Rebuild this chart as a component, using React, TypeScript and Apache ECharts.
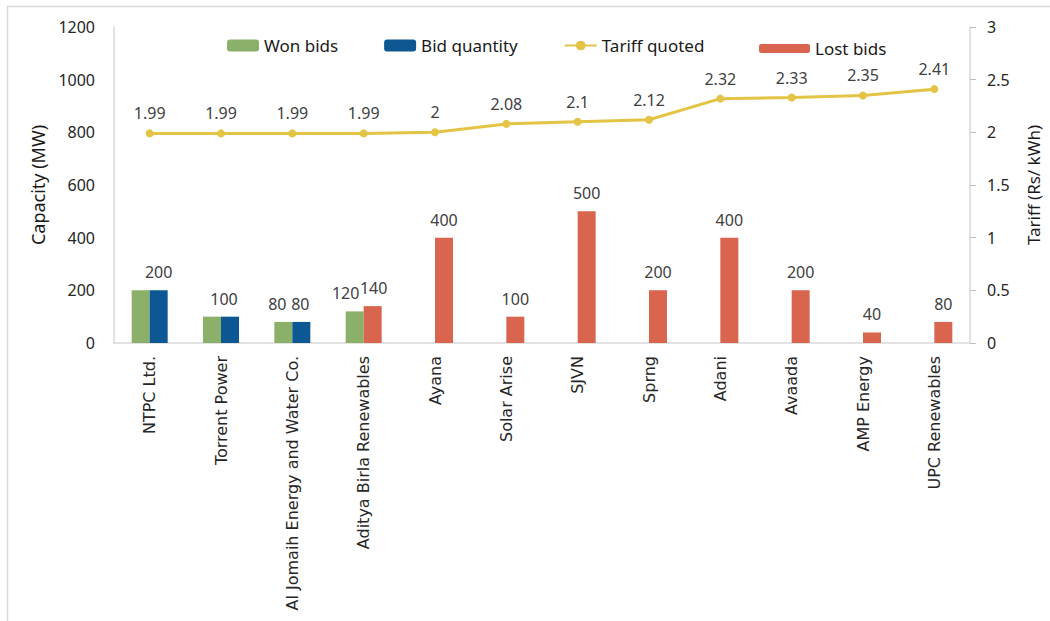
import React, { useEffect, useRef } from "react";
import * as echarts from "echarts";

const categories = [
  "NTPC Ltd.",
  "Torrent Power",
  "Al Jomaih Energy and Water Co.",
  "Aditya Birla Renewables",
  "Ayana",
  "Solar Arise",
  "SJVN",
  "Sprng",
  "Adani",
  "Avaada",
  "AMP Energy",
  "UPC Renewables",
];
const wonBids: (number | string)[] = [200, 100, 80, 120, "-", "-", "-", "-", "-", "-", "-", "-"];
const bidQuantity: (number | string)[] = [200, 100, 80, "-", "-", "-", "-", "-", "-", "-", "-", "-"];
const lostBids: (number | string)[] = ["-", "-", "-", 140, 400, 100, 500, 200, 400, 200, 40, 80];
const tariffQuoted = [1.99, 1.99, 1.99, 1.99, 2, 2.08, 2.1, 2.12, 2.32, 2.33, 2.35, 2.41];
const capacityTicks = { min: 0, max: 1200, interval: 200 };
const tariffTicks = { min: 0, max: 3, interval: 0.5 };

const GREEN = "#8AB06A";
const BLUE = "#0D5892";
const RED = "#D9654F";
const YELLOW = "#E3C444";
const FONT = "Noto Sans";

export default function App() {
  const ref = useRef<HTMLDivElement>(null);
  useEffect(() => {
    if (!ref.current) return;
    const chart = echarts.init(ref.current, null, { renderer: "svg" });
    const labelStyle = {
      show: true,
      position: "top" as const,
      distance: 10,
      color: "#404040",
      fontSize: 16,
      fontFamily: FONT,
    };
    const wonOffsets: Record<number, number[]> = { 2: [-6, 0], 3: [-9, 0] };
    const bidOffsets: Record<number, number[]> = { 1: [-6, 0], 2: [-1, 0] };
    const lostOffsets: Record<number, number[]> = { 3: [1, 0] };
    chart.setOption({
      animation: false,
      backgroundColor: "#ffffff",
      graphic: [
        {
          type: "rect",
          shape: { x: 7.5, y: 6.5, width: 1200, height: 800 },
          style: { fill: "none", stroke: "#d9d9d9", lineWidth: 1.5 },
          silent: true,
        },
      ],
      legend: [
        {
          data: ["Won bids", "Bid quantity", "Tariff quoted"],
          left: 222,
          top: 32,
          itemWidth: 32,
          itemHeight: 12,
          itemGap: 46,
          textStyle: { fontSize: 17, fontFamily: FONT, color: "#1a1a1a" },
        },
        {
          data: ["Lost bids"],
          left: 754,
          top: 35,
          itemWidth: 51,
          itemHeight: 9,
          textStyle: { fontSize: 17, fontFamily: FONT, color: "#1a1a1a" },
        },
      ],
      grid: { left: 114, right: 69, top: 27, bottom: 278, containLabel: false },
      xAxis: {
        type: "category",
        data: categories,
        axisLine: { show: true, lineStyle: { color: "#d9d9d9", width: 1.5 } },
        axisTick: { show: false },
        axisLabel: {
          interval: 0,
          rotate: 90,
          margin: 13,
          fontSize: 16,
          fontFamily: "DejaVu Sans",
          color: "#262626",
        },
      },
      yAxis: [
        {
          type: "value",
          ...capacityTicks,
          name: "Capacity (MW)",
          nameLocation: "middle",
          nameGap: 63,
          nameTextStyle: { fontSize: 18, fontFamily: FONT, color: "#1a1a1a" },
          axisLine: { show: true, lineStyle: { color: "#d9d9d9", width: 1.5 } },
          axisTick: { show: false },
          splitLine: { show: false },
          axisLabel: {
            margin: 19,
            fontSize: 16,
            fontFamily: FONT,
            color: "#262626",
            formatter: (v: number) => String(v),
          },
        },
        {
          type: "value",
          ...tariffTicks,
          name: "Tariff (Rs/ kWh)",
          nameLocation: "middle",
          nameGap: 55,
          nameRotate: 90,
          nameTextStyle: { fontSize: 17, fontFamily: FONT, color: "#1a1a1a" },
          axisLine: { show: true, lineStyle: { color: "#d9d9d9", width: 1.5 } },
          axisTick: { show: true, length: 6, lineStyle: { color: "#bfbfbf" } },
          splitLine: { show: false },
          axisLabel: { margin: 17, fontSize: 16, fontFamily: FONT, color: "#262626" },
        },
      ],
      series: [
        {
          name: "Won bids",
          type: "bar",
          barWidth: 18,
          barGap: "0%",
          itemStyle: { color: GREEN },
          data: wonBids.map((v, i) => ({
            value: v,
            label: { ...labelStyle, show: i === 2 || i === 3, offset: wonOffsets[i] || [0, 0] },
          })),
        },
        {
          name: "Bid quantity",
          type: "bar",
          stack: "right",
          barWidth: 18,
          barGap: "0%",
          itemStyle: { color: BLUE },
          data: bidQuantity.map((v, i) => ({
            value: v,
            label: { ...labelStyle, offset: bidOffsets[i] || [0, 0] },
          })),
        },
        {
          name: "Tariff quoted",
          type: "line",
          yAxisIndex: 1,
          symbol: "circle",
          symbolSize: 8,
          lineStyle: { color: YELLOW, width: 3 },
          itemStyle: { color: YELLOW },
          label: { ...labelStyle, distance: 8 },
          data: tariffQuoted,
        },
        {
          name: "Lost bids",
          type: "bar",
          stack: "right",
          barWidth: 18,
          barGap: "0%",
          itemStyle: { color: RED },
          data: lostBids.map((v, i) => ({
            value: v,
            label: { ...labelStyle, offset: lostOffsets[i] || [0, 0] },
          })),
        },
      ],
    });
    return () => chart.dispose();
  }, []);
  return (
    <div
      ref={ref}
      style={{ position: "absolute", left: 0, top: 0, width: 1050, height: 621 }}
    />
  );
}
